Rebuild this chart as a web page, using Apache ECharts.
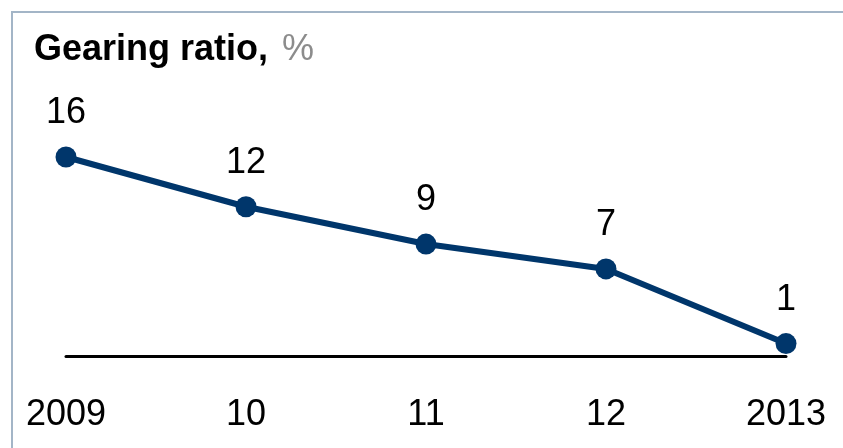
<!DOCTYPE html>
<html>
<head>
<meta charset="utf-8">
<script src="https://cdn.jsdelivr.net/npm/echarts@6/dist/echarts.min.js"></script>
<style>
	html, body { margin: 0; padding: 0; background: #fff; }
	#chart { width: 843px; height: 448px; }
</style>
</head>
<body>
<div id="chart"></div>
<script>
	// data
	var years = ['2009', '10', '11', '12', '2013'];
	var gearing = [16, 12, 9, 7, 1];

	var navy = '#00366b';
	var frame = '#a3b5c7';
	var chart = echarts.init( document.getElementById( 'chart' ) );

	chart.setOption( {
		animation: false,
		textStyle: { fontFamily: 'Arial, "Liberation Sans", sans-serif' },
		title: {
			text: '{b|Gearing ratio,}{g|%}',
			left: 29,
			top: 27,
			textStyle: {
				rich: {
					b: { fontSize: 36, fontWeight: 'bold', color: '#000' },
					g: { fontSize: 36, fontWeight: 'normal', color: '#8c8c8c', padding: [0, 0, 0, 14] }
				}
			}
		},
		graphic: [
			{
				type: 'line',
				silent: true,
				shape: { x1: 12, y1: 12, x2: 843, y2: 12 },
				style: { stroke: frame, lineWidth: 2 }
			},
			{
				type: 'line',
				silent: true,
				shape: { x1: 12, y1: 11, x2: 12, y2: 448 },
				style: { stroke: frame, lineWidth: 2 }
			}
		],
		grid: { left: 66, right: 57, top: 157, bottom: 92 },
		xAxis: {
			type: 'category',
			data: years,
			boundaryGap: false,
			axisLine: { lineStyle: { color: '#000', width: 3 } },
			axisTick: { show: false },
			axisLabel: { color: '#000', fontSize: 36, margin: 41 }
		},
		yAxis: {
			type: 'value',
			min: 0,
			max: 16,
			show: false,
			splitLine: { show: false }
		},
		series: [
			{
				type: 'line',
				data: gearing,
				symbol: 'circle',
				symbolSize: 21,
				lineStyle: { color: navy, width: 6 },
				itemStyle: { color: navy },
				label: {
					show: true,
					position: 'top',
					distance: 15,
					fontSize: 36,
					color: '#000'
				}
			}
		]
	} );
</script>
</body>
</html>
